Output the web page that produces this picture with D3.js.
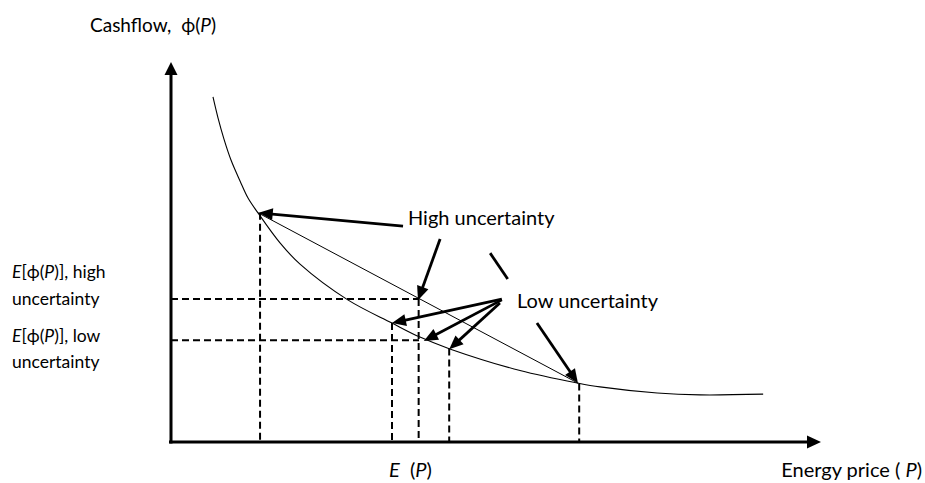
<!DOCTYPE html>
<html>
<head>
<meta charset="utf-8">
<script src="https://cdn.jsdelivr.net/npm/d3@7"></script>
<style>
  html, body { margin: 0; padding: 0; background: #fff; }
  svg { display: block; }
  text { font-family: Lato, "Open Sans", "DejaVu Sans", sans-serif; fill: #000; }
</style>
</head>
<body>
<svg id="chart" width="925" height="483"></svg>
<script>
// ---------------- data (abstract units: price P 0..100, cashflow phi 0..100) ----------------
const curveP   = [6.46, 7.23, 8.15, 9.23, 10.62, 11.85, 13.38, 16.77, 19.85, 27.2, 34.0, 38.3, 42.9, 53.7, 62.6, 66.0, 74.8, 81.4, 91.1];
const curvePhi = [90.8, 85.3, 79.7, 74.2, 68.7, 64.2, 60.3, 52.4, 46.8, 37.4, 31.3, 27.6, 24.5, 18.8, 15.5, 14.5, 12.9, 12.4, 12.6];

const highP   = [13.4, 62.6];      // high-uncertainty outcomes
const highPhi = [60.3, 15.5];
const lowP    = [34.0, 42.8];      // low-uncertainty outcomes
const lowPhi  = [31.3, 24.7];
const meanP   = 38.0;              // E(P)
const expPhiLevels = [37.6, 26.8]; // E[phi(P)] high, low

const dropP   = [13.7, 34.0, 38.1, 42.8, 62.8];   // vertical dashed drop lines
const dropTop = [60.3, 31.3, 37.6, 24.6, 15.4];

const arrowFrom = [[35.7, 56.8], [41.4, 53.4], [50.9, 37.6], [50.9, 37.4], [50.6, 36.6], [56.3, 31.3]];
const arrowTo   = [[13.5, 60.3], [38.0, 37.3], [34.0, 31.3], [38.9, 26.6], [42.8, 24.4], [62.6, 15.5]];
const plainSegFrom = [49.1, 49.7];
const plainSegTo   = [51.8, 42.9];

const annoLabels = ["High uncertainty", "Low uncertainty"];
const yTitleText = ["Cashflow,\u00a0 ", "\u03d5(", "P", ")"];
const leftLabels = [
  [["E", true], ["[\u03d5(", false], ["P", true], [")], high", false]],
  [["uncertainty", false]],
  [["E", true], ["[\u03d5(", false], ["P", true], [")], low", false]],
  [["uncertainty", false]]
];
const xLabelMean = [["E", true], ["\u00a0 (", false], ["P", true], [")", false]];
const xTitle = [["Energy price ( ", false], ["P", true], [")", false]];

// ---------------- scales ----------------
const svg = d3.select("#chart");
const x = d3.scaleLinear().domain([0, 100]).range([171, 821]);
const y = d3.scaleLinear().domain([0, 100]).range([442, 62]);

function head(x1, y1, x2, y2, len, wid) {
  const a = Math.atan2(y2 - y1, x2 - x1);
  const bx = x2 - len * Math.cos(a), by = y2 - len * Math.sin(a);
  const px = -Math.sin(a) * wid / 2, py = Math.cos(a) * wid / 2;
  return `M${x2},${y2}L${bx + px},${by + py}L${bx - px},${by - py}Z`;
}
function shorten(x1, y1, x2, y2, d) {
  const a = Math.atan2(y2 - y1, x2 - x1);
  return [x2 - d * Math.cos(a), y2 - d * Math.sin(a)];
}

// ---------------- axes ----------------
const xAxis = svg.append("g").attr("transform", `translate(0,${y(0)})`)
  .call(d3.axisBottom(x).tickValues([]).tickSizeOuter(0));
xAxis.select(".domain").attr("stroke", "#000").attr("stroke-width", 3)
  .attr("d", `M${x(0) - 2},0H${x(100) - 8}`);
svg.append("path").attr("d", head(x(0), y(0), x(100), y(0), 14, 13)).attr("fill", "#000");

const yAxis = svg.append("g").attr("transform", `translate(${x(0)},0)`)
  .call(d3.axisLeft(y).tickValues([]).tickSizeOuter(0));
yAxis.select(".domain").attr("stroke", "#000").attr("stroke-width", 3)
  .attr("d", `M0,${y(0) + 1.5}V${y(100) + 8}`);
svg.append("path").attr("d", head(x(0), y(0), x(0), y(100), 13, 13)).attr("fill", "#000");

// ---------------- dashed lines ----------------
const dash = "7,4";
expPhiLevels.forEach(v => {
  svg.append("line")
    .attr("x1", x(0)).attr("x2", x(meanP) + 1)
    .attr("y1", y(v)).attr("y2", y(v))
    .attr("stroke", "#000").attr("stroke-width", 2).attr("stroke-dasharray", dash);
});
dropP.forEach((p, i) => {
  svg.append("line")
    .attr("x1", x(p)).attr("x2", x(p))
    .attr("y1", y(dropTop[i])).attr("y2", y(0))
    .attr("stroke", "#000").attr("stroke-width", 2).attr("stroke-dasharray", dash);
});

// ---------------- curve and chords ----------------
const curveData = curveP.map((p, i) => [p, curvePhi[i]]);
svg.append("path")
  .datum(curveData)
  .attr("d", d3.line().x(d => x(d[0])).y(d => y(d[1])).curve(d3.curveCatmullRom.alpha(0.5)))
  .attr("fill", "none").attr("stroke", "#000").attr("stroke-width", 1.1);

svg.append("line")
  .attr("x1", x(highP[0])).attr("y1", y(highPhi[0]))
  .attr("x2", x(highP[1])).attr("y2", y(highPhi[1]))
  .attr("stroke", "#000").attr("stroke-width", 1);

// ---------------- annotation arrows ----------------
arrowFrom.forEach((f, i) => {
  const x1 = x(f[0]), y1 = y(f[1]), x2 = x(arrowTo[i][0]), y2 = y(arrowTo[i][1]);
  const e = shorten(x1, y1, x2, y2, 8);
  svg.append("line").attr("x1", x1).attr("y1", y1).attr("x2", e[0]).attr("y2", e[1])
    .attr("stroke", "#000").attr("stroke-width", 2.8);
  svg.append("path").attr("d", head(x1, y1, x2, y2, 14, 12)).attr("fill", "#000");
});
svg.append("line")
  .attr("x1", x(plainSegFrom[0])).attr("y1", y(plainSegFrom[1]))
  .attr("x2", x(plainSegTo[0])).attr("y2", y(plainSegTo[1]))
  .attr("stroke", "#000").attr("stroke-width", 2.8);

// ---------------- text ----------------
function rich(sel, parts) {
  parts.forEach(p => sel.append("tspan").text(p[0]).style("font-style", p[1] ? "italic" : "normal"));
}
svg.append("text").attr("x", 408).attr("y", 225).style("font-size", "20px").text(annoLabels[0]);
svg.append("text").attr("x", 517).attr("y", 308).style("font-size", "20px").text(annoLabels[1]);

const yt = svg.append("text").attr("x", 90).attr("y", 32).style("font-size", "19px");
rich(yt, [[yTitleText[0], false], [yTitleText[1], false], [yTitleText[2], true], [yTitleText[3], false]]);

const leftY = [278, 305, 342, 368];
leftLabels.forEach((parts, i) => {
  const t = svg.append("text").attr("x", 12).attr("y", leftY[i]).style("font-size", "17.5px");
  rich(t, parts);
});

const xm = svg.append("text").attr("x", 389).attr("y", 477).style("font-size", "20px");
rich(xm, xLabelMean);
const xt = svg.append("text").attr("x", 922).attr("y", 477).attr("text-anchor", "end").style("font-size", "20px");
rich(xt, xTitle);
</script>
</body>
</html>
